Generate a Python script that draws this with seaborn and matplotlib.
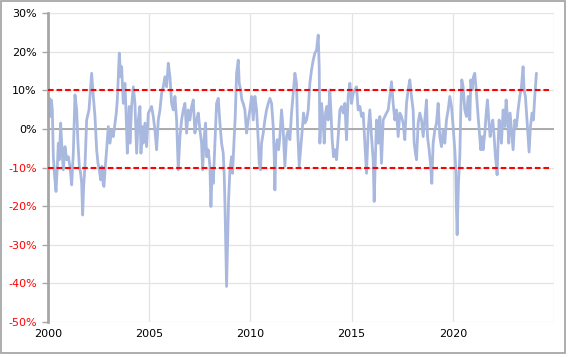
import matplotlib
matplotlib.use("Agg")
import matplotlib.pyplot as plt
import seaborn as sns
import pandas as pd
from matplotlib.patches import Rectangle
from matplotlib.ticker import FuncFormatter

# ---- data (decimal year, change in %) ----
years = [
    2000.02, 2000.066, 2000.115, 2000.165, 2000.214, 2000.263, 2000.329, 2000.395, 2000.461, 2000.510,
    2000.560, 2000.626, 2000.691, 2000.757, 2000.840, 2000.922, 2001.004, 2001.086, 2001.169, 2001.251,
    2001.333, 2001.416, 2001.481, 2001.547, 2001.613, 2001.663, 2001.712, 2001.761, 2001.827, 2001.909,
    2002.025, 2002.107, 2002.156, 2002.239, 2002.321, 2002.403, 2002.469, 2002.535, 2002.601, 2002.667,
    2002.733, 2002.765, 2002.831, 2002.897, 2002.979, 2003.062, 2003.144, 2003.226, 2003.309, 2003.374,
    2003.424, 2003.490, 2003.523, 2003.588, 2003.638, 2003.720, 2003.802, 2003.852, 2003.918, 2003.967,
    2004.016,
    2004.049, 2004.132, 2004.214, 2004.296, 2004.379, 2004.461, 2004.543, 2004.593, 2004.658, 2004.708,
    2004.790, 2004.872, 2004.955, 2005.037, 2005.119, 2005.202, 2005.284, 2005.366, 2005.449, 2005.531,
    2005.613, 2005.695, 2005.778, 2005.860, 2005.942, 2006.025, 2006.107, 2006.189, 2006.272, 2006.354,
    2006.403, 2006.436, 2006.519, 2006.601, 2006.683, 2006.765, 2006.848, 2006.930, 2007.012, 2007.095,
    2007.177, 2007.259, 2007.342, 2007.424, 2007.506, 2007.588, 2007.638, 2007.720, 2007.786, 2007.835,
    2007.918, 2008.000, 2008.049, 2008.115, 2008.165, 2008.247,
    2008.329, 2008.412, 2008.494, 2008.576, 2008.658, 2008.708, 2008.741, 2008.790, 2008.823, 2008.873,
    2008.922, 2008.988, 2009.070, 2009.119, 2009.185, 2009.251, 2009.317, 2009.399, 2009.449, 2009.514,
    2009.580, 2009.646, 2009.728, 2009.811, 2009.893, 2009.975, 2010.058, 2010.140, 2010.222, 2010.305,
    2010.387, 2010.436, 2010.502, 2010.551, 2010.634, 2010.716, 2010.798, 2010.881, 2010.963, 2011.045,
    2011.128, 2011.177, 2011.210, 2011.259, 2011.325, 2011.391, 2011.457, 2011.539, 2011.621, 2011.704,
    2011.786, 2011.868, 2011.951, 2012.033, 2012.115, 2012.198, 2012.280, 2012.329, 2012.412,
    2012.494, 2012.560, 2012.626, 2012.691, 2012.774, 2012.856, 2012.938, 2013.021, 2013.103, 2013.185,
    2013.268, 2013.350, 2013.399, 2013.432, 2013.514, 2013.597, 2013.646, 2013.712, 2013.778, 2013.844,
    2013.926, 2013.975, 2014.041, 2014.107, 2014.173, 2014.255, 2014.337, 2014.420, 2014.502, 2014.584,
    2014.667, 2014.749, 2014.831, 2014.914, 2014.996, 2015.078, 2015.160, 2015.243, 2015.325, 2015.407,
    2015.490, 2015.572, 2015.654, 2015.737, 2015.819, 2015.901, 2015.984, 2016.066, 2016.115, 2016.181,
    2016.230, 2016.313, 2016.395, 2016.477, 2016.560,
    2016.642, 2016.724, 2016.807, 2016.889, 2016.971, 2017.053, 2017.136, 2017.218, 2017.300, 2017.383,
    2017.465, 2017.547, 2017.630, 2017.712, 2017.794, 2017.877, 2017.959, 2018.041, 2018.091, 2018.156,
    2018.206, 2018.288, 2018.370, 2018.453, 2018.535, 2018.617, 2018.700, 2018.749, 2018.831, 2018.897,
    2018.963, 2019.029, 2019.111, 2019.193, 2019.276, 2019.358, 2019.440, 2019.523, 2019.605, 2019.687,
    2019.770, 2019.852, 2019.934, 2020.016, 2020.099, 2020.148, 2020.181, 2020.214, 2020.280, 2020.346,
    2020.395, 2020.444, 2020.510, 2020.593, 2020.675, 2020.757, 2020.840,
    2020.889, 2020.955, 2021.021, 2021.086, 2021.169, 2021.251, 2021.333, 2021.383, 2021.449, 2021.498,
    2021.580, 2021.663, 2021.712, 2021.778, 2021.844, 2021.910, 2021.975, 2022.041, 2022.107, 2022.156,
    2022.189, 2022.238, 2022.288, 2022.354, 2022.403, 2022.486, 2022.568, 2022.634, 2022.700, 2022.765,
    2022.831, 2022.897, 2022.979, 2023.062, 2023.144, 2023.226, 2023.309, 2023.391, 2023.473, 2023.523,
    2023.588, 2023.654, 2023.720, 2023.770, 2023.835, 2023.918, 2023.984, 2024.049, 2024.132,
]
pct = [
    4.9, 7.9, 3.2, 7.5, 4.9, -7.2, -12.3, -16.2, -9.7, -3.7,
    -8.0, 1.5, -5.4, -10.6, -4.6, -8.0, -7.2, -9.7, -14.5, -6.3,
    8.8, 4.9, -3.7, -9.7, -11.5, -14.1, -22.3, -14.9, -9.7, 2.3,
    4.9, 10.9, 14.4, 8.4, 3.2, -5.4, -8.9, -10.6, -13.2, -9.7,
    -14.5, -14.9, -9.7, -5.4, 0.6, -3.7, -0.3, -2.0, 1.5, 4.1,
    7.5, 15.3, 19.6, 13.5, 16.1, 6.6, 11.8, 4.9, -6.3, 0.6,
    5.8,
    -3.7, 5.8, 10.9, 6.6, -6.3, 2.3, 5.8, -6.3, 0.6, -3.7,
    1.5, -4.6, 4.1, 4.9, 5.8, 3.2, -0.3, -5.4, 2.3, 4.9,
    9.2, 10.9, 13.5, 10.9, 17.0, 13.5, 6.6, 4.9, 8.4, 2.3,
    -5.4, -10.6, -2.0, 2.3, 4.9, 6.6, -1.1, 4.9, 2.3, 5.8,
    7.5, -1.1, 2.3, 4.1, -0.3, -3.7, -10.6, -2.0, 1.5, -7.2,
    -5.4, -9.7, -20.1, -10.6, -14.1, -3.7,
    6.6, 7.9, 1.5, -3.7, -6.3, -12.3, -19.2, -33.0, -40.8, -29.6,
    -18.4, -10.6, -7.2, -11.5, -3.7, 3.2, 14.4, 17.8, 11.8, 10.1,
    7.5, 6.6, 4.9, -1.1, 2.3, 4.9, 8.4, 2.3, 8.4, 4.9,
    -2.8, -8.9, -10.6, -3.7, -1.1, 2.3, 4.9, 6.6, 7.9, 6.6,
    0.6, -7.2, -15.8, -5.4, -2.8, -5.4, -2.0, 4.9, -0.3, -9.7,
    -2.0, -0.3, -2.8, 4.1, 9.2, 14.4, 11.8, 0.6, -9.7,
    -4.6, -0.3, 4.1, 1.5, 2.3, 4.9, 11.8, 15.3, 17.8, 19.6,
    20.4, 24.3, 16.1, -3.7, 6.6, 1.5, -3.7, 4.1, 5.8, 2.3,
    10.1, 4.9, -2.8, -7.2, -5.4, -8.0, -2.0, 4.9, 5.8, 4.1,
    6.6, -2.8, 8.4, 11.8, 6.6, 9.2, 10.1, 10.9, 4.9, 5.8,
    3.2, 4.1, -3.7, -11.5, -0.3, 4.9, -2.0, -8.0, -18.8, -6.3,
    2.3, -3.7, 3.2, -8.9, 2.3,
    3.2, 4.1, 4.9, 8.4, 12.2, 6.6, 2.3, 4.9, -2.0, 4.1,
    3.2, 1.5, -2.8, 6.6, 10.1, 12.7, 8.4, 4.9, -3.7, -6.3,
    -8.0, 1.5, 4.1, 2.3, -2.0, 2.3, 7.5, -2.0, -5.4, -8.9,
    -14.1, -3.7, -0.3, 1.5, 6.6, -2.0, -4.6, -0.3, -3.7, 2.3,
    4.9, 8.4, 5.8, 0.6, -5.4, -10.6, -20.9, -27.4, -14.1, -7.2,
    4.9, 12.7, 10.9, 4.9, 3.2, 8.4, 2.3,
    12.7, 10.1, 13.5, 14.4, 9.2, 3.2, -2.0, -5.4, -2.0, -5.4,
    -1.1, 4.9, 7.5, 2.3, -2.0, 0.6, 2.3, -2.0, -7.2, -9.7,
    -11.9, -3.7, 2.3, -0.3, -3.7, 4.9, 0.6, 7.5, 3.2, -3.7,
    4.1, -0.3, -5.4, 2.3, 0.6, 4.9, 8.4, 10.9, 16.1, 10.1,
    8.4, 3.2, -2.0, -6.0, 0.6, 4.1, 2.3, 8.4, 14.4,
]
threshold = 10.0
y_ticks = [-50, -40, -30, -20, -10, 0, 10, 20, 30]
x_ticks = [2000, 2005, 2010, 2015, 2020]

df = pd.DataFrame({"year": years, "pct": [v / 100 for v in pct]})

sns.set_style("white")
plt.rcParams["font.family"] = ["DejaVu Sans"]

fig = plt.figure(figsize=(5.69, 3.57), dpi=100)
ax = fig.add_axes([48 / 569, 1 - 322 / 357, (554 - 48) / 569, (322 - 13) / 357])

# grid
for yt in y_ticks:
    ax.axhline(yt / 100, color="#e3e3e3", lw=0.9, zorder=0)
for xt in x_ticks + [2025]:
    ax.axvline(xt, color="#e3e3e3", lw=0.9, zorder=0)

ax.axhline(0, color="#a6a6a6", lw=1.3, zorder=1)

sns.lineplot(data=df, x="year", y="pct", ax=ax, color="#A9B8DE",
             lw=2.0, sort=False, estimator=None, zorder=2)

ax.hlines([threshold / 100, -threshold / 100], 2000, 2024.85, colors="#ff0000",
          linestyles=(0, (2.7, 1.4)), lw=1.5, zorder=3)

ax.set_xlim(2000, 2025)
ax.set_ylim(-0.5, 0.3)
ax.set_yticks([v / 100 for v in y_ticks])
ax.yaxis.set_major_formatter(FuncFormatter(lambda v, p: f"{round(v * 100):d}%"))
ax.set_xticks(x_ticks)
ax.set_xticklabels([str(x) for x in x_ticks])
ax.set_xlabel("")
ax.set_ylabel("")

for lab, v in zip(ax.get_yticklabels(), y_ticks):
    lab.set_color("#ff0000" if v < 0 else "black")

ax.tick_params(axis="y", length=4, width=1, color="#a6a6a6", labelsize=8, pad=4, left=True)
ax.tick_params(axis="x", length=0, labelsize=8, pad=5, colors="black", bottom=False)

for s in ["top", "right", "bottom"]:
    ax.spines[s].set_visible(False)
ax.spines["left"].set_color("#a6a6a6")
ax.spines["left"].set_linewidth(2)

fig.patches.append(Rectangle((1 / 569, 1 - 353 / 357), 564 / 569, 353 / 357 - 0.002,
                             transform=fig.transFigure, fill=False,
                             edgecolor="#a0a0a0", lw=1.2))

fig.savefig("out.png", dpi=100)
